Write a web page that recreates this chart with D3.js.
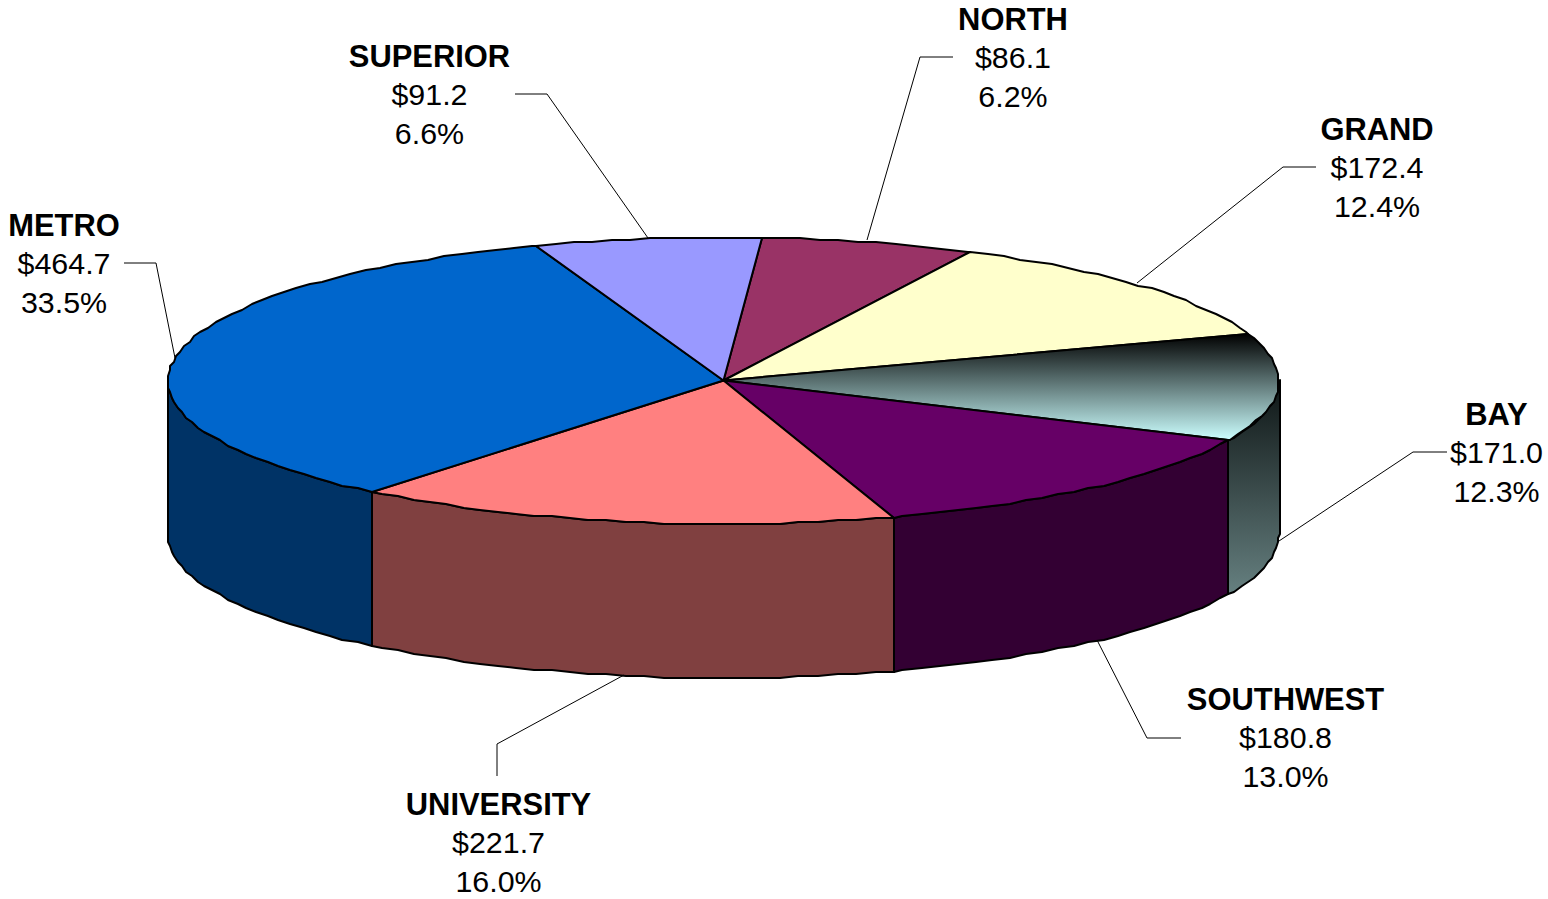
<!DOCTYPE html>
<html>
<head>
<meta charset="utf-8">
<script src="https://cdn.jsdelivr.net/npm/d3@7/dist/d3.min.js"></script>
<style>
  html, body { margin: 0; padding: 0; background: #fff; overflow: hidden; }
  text { font-family: "Liberation Sans", Arial, sans-serif; font-size: 30.4px; fill: #000; text-anchor: middle; }
  .name { font-weight: bold; font-size: 30.9px; }
</style>
</head>
<body>
<div id="chart"></div>
<script>
// values, clockwise starting at the top
var regions = ["NORTH", "GRAND", "BAY", "SOUTHWEST", "UNIVERSITY", "METRO", "SUPERIOR"];
var amounts = [86.1, 172.4, 171.0, 180.8, 221.7, 464.7, 91.2];
var shares  = ["6.2%", "12.4%", "12.3%", "13.0%", "16.0%", "33.5%", "6.6%"];

// colours for each region, top face then side face
var topColors  = ["#993366", "#FFFFCC", "url(#bayTop)", "#660066", "#FF8080", "#0066CC", "#9999FF"];
var sideColors = ["#4D1A33", "#808066", "url(#baySide)", "#330033", "#804040", "#003366", "#4D4D80"];

// label centre, first baseline and leader line for each region
var labelX = [1013, 1377, 1496.5, 1285.5, 498.5, 64, 429.5];
var labelY = [29, 139, 424, 709, 814, 235, 66];
var leaders = [
  [[953, 57], [920, 57], [867, 240]],
  [[1316, 167], [1283, 167], [1137, 283]],
  [[1447, 452], [1413, 452], [1279, 541]],
  [[1181, 738], [1147, 738], [1097, 640]],
  [[497, 776], [497, 744], [624, 675]],
  [[124, 263], [156, 263], [175, 358]],
  [[515, 94], [547, 94], [648, 238]]
];

var width = 1548, height = 899,
    depth = 154,
    lineGap = 39,
    toRad = Math.PI / 180;

var svg = d3.select("#chart").append("svg")
    .attr("width", width)
    .attr("height", height);

var defs = svg.append("defs");
function addGradient(id, from, to) {
  var g = defs.append("linearGradient").attr("id", id)
      .attr("x1", 0).attr("y1", 0).attr("x2", 0).attr("y2", 1);
  g.append("stop").attr("offset", "0%").attr("stop-color", from);
  g.append("stop").attr("offset", "100%").attr("stop-color", to);
}
addGradient("bayTop", "#000000", "#CCFFFF");
addGradient("baySide", "#0D1414", "#668080");

// unit circle -> flattened disc on screen
var xVal = d3.scaleLinear().domain([-1, 1]).range([168, 1279]);
var yVal = d3.scaleLinear().domain([-1, 1]).range([237, 524]);

var slices = d3.pie().sort(null)
    .startAngle(4 * toRad)
    .endAngle(364 * toRad)(amounts);

// the rim in the original is a bit rough, so snap it to a coarse grid
function snap(v) { return Math.round(v / 2) * 2; }
function rimPoint(a, drop) {
  // front half of the disc sits a touch further back, perspective in the original
  var front = Math.cos(a) < 0,
      b = front ? a - 0.8 * toRad * Math.abs(Math.sin(a)) : a;
  return [snap(xVal(Math.sin(b))), snap(yVal(-Math.cos(b))) + drop];
}
function rim(a0, a1, drop) {
  var pts = [], step = 2 * toRad;
  for (var a = a0; a < a1; a += step) pts.push(rimPoint(a, drop));
  pts.push(rimPoint(a1, drop));
  return pts;
}

var line = d3.line();
var centre = [xVal(0), yVal(0)];

// sides first, only the front half of the disc shows
var sideData = slices.map(function(d, i) {
  return { a0: Math.max(d.startAngle, Math.PI / 2), a1: Math.min(d.endAngle, Math.PI * 1.5), i: i };
}).filter(function(d) { return d.a1 > d.a0; });

svg.append("g").selectAll("path")
    .data(sideData)
  .enter().append("path")
    .attr("d", function(d) {
      return line(rim(d.a0, d.a1, 0).concat(rim(d.a0, d.a1, depth).reverse())) + "Z";
    })
    .attr("fill", function(d) { return sideColors[d.i]; })
    .attr("stroke", "#000")
    .attr("stroke-width", 2)
    .attr("stroke-linejoin", "round");

// top faces
svg.append("g").selectAll("path")
    .data(slices)
  .enter().append("path")
    .attr("d", function(d) {
      return line([centre].concat(rim(d.startAngle, d.endAngle, 0))) + "Z";
    })
    .attr("fill", function(d, i) { return topColors[i]; })
    .attr("stroke", "#000")
    .attr("stroke-width", 2)
    .attr("stroke-linejoin", "round");

// leader lines
svg.append("g").selectAll("path")
    .data(leaders)
  .enter().append("path")
    .attr("d", function(d) { return line(d); })
    .attr("fill", "none")
    .attr("stroke", "#000")
    .attr("stroke-width", 1);

// labels
var labels = svg.append("g").selectAll("g")
    .data(regions)
  .enter().append("g")
    .attr("transform", function(d, i) { return "translate(" + labelX[i] + "," + labelY[i] + ")"; });

labels.append("text").attr("class", "name").attr("y", 1)
    .text(function(d) { return d; });
labels.append("text").attr("y", lineGap)
    .text(function(d, i) { return "$" + amounts[i].toFixed(1); });
labels.append("text").attr("y", 2 * lineGap)
    .text(function(d, i) { return shares[i]; });
</script>
</body>
</html>
